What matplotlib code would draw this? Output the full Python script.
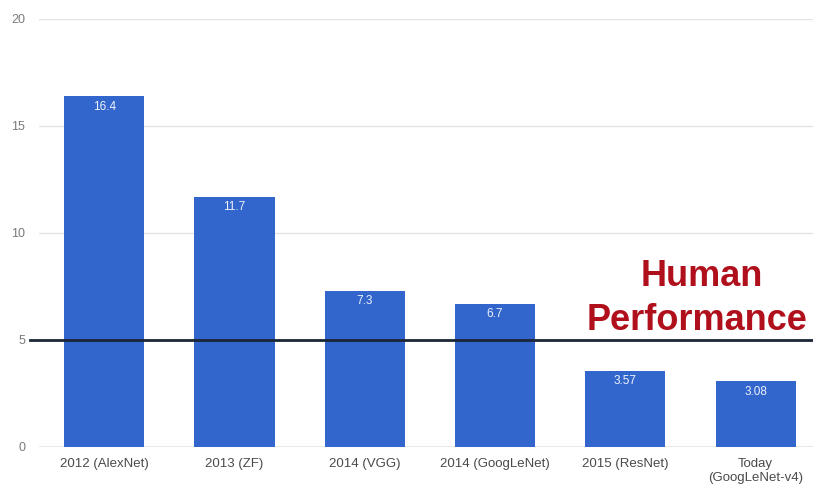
import matplotlib
matplotlib.use("Agg")
import matplotlib.pyplot as plt

categories = ["2012 (AlexNet)", "2013 (ZF)", "2014 (VGG)", "2014 (GoogLeNet)",
              "2015 (ResNet)", "Today\n(GoogLeNet-v4)"]
errors = [16.4, 11.7, 7.3, 6.7, 3.57, 3.08]
value_labels = ["16.4", "11.7", "7.3", "6.7", "3.57", "3.08"]
y_ticks = [0, 5, 10, 15, 20]
human_level = 5

plt.rcParams["font.family"] = ["Liberation Sans", "DejaVu Sans"]

fig = plt.figure(figsize=(8.13, 4.92), dpi=100)
ax = fig.add_axes([0.048, 0.0915, 0.952, 0.870])

x = list(range(len(categories)))
ax.bar(x, errors, width=0.615, color="#3366cc", zorder=2)

for xi, v, lab in zip(x, errors, value_labels):
    ax.text(xi, v - 0.5, lab, ha="center", va="center", color="#eef2fa",
            fontsize=8.5, zorder=3)

ax.axhline(human_level, xmin=-0.012, xmax=1.02, color="#1b2636",
           linewidth=2.0, zorder=4, clip_on=False)
ax.text(4.585, 7.95, "Human", ha="center", va="center",
        color="#b0101c", fontsize=26, fontweight="bold", zorder=5)
ax.text(4.55, 5.92, "Performance", ha="center", va="center",
        color="#b0101c", fontsize=26, fontweight="bold", zorder=5)

ax.set_xlim(-0.5, 5.44)
ax.set_ylim(0, 20)
ax.set_yticks(y_ticks)
ax.set_xticks(x)
ax.set_xticklabels(categories, fontsize=9.5, color="#4a4a4a")
ax.tick_params(axis="y", labelsize=9, labelcolor="#7a7a7a", length=0, pad=10)
ax.tick_params(axis="x", length=0, pad=8)
ax.grid(axis="y", color="#e4e4e4", linewidth=1.0, zorder=0)
ax.axhline(0, color="#9a9a9a", linewidth=1.0, zorder=1)
for s in ax.spines.values():
    s.set_visible(False)

fig.savefig("out.png", dpi=100)
